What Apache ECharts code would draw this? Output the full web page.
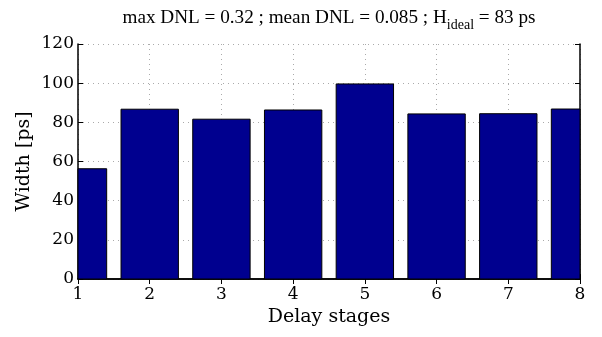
<!DOCTYPE html>
<html>
<head>
<meta charset="utf-8">
<script src="https://cdn.jsdelivr.net/npm/echarts@6/dist/echarts.min.js"></script>
<style>html,body{margin:0;padding:0;background:#fff}#c{width:602px;height:337px}</style>
</head>
<body>
<div id="c"></div>
<script>
var stages = [1, 2, 3, 4, 5, 6, 7, 8];
var widths = [56.3, 86.7, 81.6, 86.3, 99.6, 84.3, 84.4, 86.8];
var yTicks = [0, 20, 40, 60, 80, 100, 120];
var xTicks = [1, 2, 3, 4, 5, 6, 7, 8];

var FONT = 'Liberation Serif';
var AFONT = 'DejaVu Serif';
var chart = echarts.init(document.getElementById('c'), null, {renderer: 'canvas'});
var data = stages.map(function (s, i) { return [s, widths[i]]; });

var axisLine = {show: true, lineStyle: {color: '#000', width: 1.5}};
var axisTick = {show: true, inside: true, length: 5, lineStyle: {color: '#000'}};
var gridLine = {show: true, lineStyle: {color: '#aaa', type: [1, 4], width: 1}};

chart.setOption({
  animation: false,
  backgroundColor: '#fff',
  title: {
    text: '{a|max DNL = 0.32 ; mean DNL = 0.085 ; H}{s|ideal}{a| = 83 ps}',
    left: 324,
    top: 1,
    textAlign: 'center',
    textStyle: {
      fontWeight: 'normal',
      rich: {
        a: {fontFamily: FONT, fontSize: 19.2, fontWeight: 'normal', color: '#000', lineHeight: 24},
        s: {fontFamily: FONT, fontSize: 14, fontWeight: 'normal', color: '#000', lineHeight: 24, padding: [14, 0, 0, 0]}
      }
    }
  },
  grid: {left: 78, right: 22, top: 44, bottom: 58, containLabel: false},
  xAxis: [{
    type: 'value', min: 1, max: 8, interval: 1, position: 'bottom',
    name: 'Delay stages', nameLocation: 'middle', nameGap: 23,
    nameTextStyle: {fontFamily: AFONT, fontSize: 19, color: '#000'},
    axisLabel: {fontFamily: AFONT, fontSize: 17, color: '#000', margin: 7, customValues: xTicks},
    axisLine: axisLine, axisTick: axisTick, splitLine: gridLine
  }, {
    type: 'value', min: 1, max: 8, interval: 1, position: 'top',
    axisLabel: {show: false}, axisLine: axisLine, axisTick: axisTick, splitLine: {show: false}
  }],
  yAxis: [{
    type: 'value', min: 0, max: 120, interval: 20, position: 'left',
    name: 'Width [ps]', nameLocation: 'middle', nameGap: 44, nameRotate: 90,
    nameMoveOverlap: false,
    nameTextStyle: {fontFamily: AFONT, fontSize: 19, color: '#000'},
    axisLabel: {fontFamily: AFONT, fontSize: 17, color: '#000', margin: 4, customValues: yTicks},
    axisLine: axisLine, axisTick: axisTick, splitLine: gridLine
  }, {
    type: 'value', min: 0, max: 120, interval: 20, position: 'right',
    axisLabel: {show: false}, axisLine: axisLine, axisTick: axisTick, splitLine: {show: false}
  }],
  series: [{
    type: 'custom',
    data: data,
    z: 1,
    renderItem: function (params, api) {
      var x = api.value(0), y = api.value(1);
      var p0 = api.coord([x - 0.4, y]);
      var p1 = api.coord([x + 0.4, 0]);
      var cs = params.coordSys;
      var rect = echarts.graphic.clipRectByRect({
        x: p0[0], y: p0[1], width: p1[0] - p0[0], height: p1[1] - p0[1]
      }, {x: cs.x, y: cs.y, width: cs.width, height: cs.height});
      if (!rect) return;
      return {type: 'rect', shape: rect, style: {fill: '#00008F', stroke: '#000', lineWidth: 1}};
    }
  }]
});
</script>
</body>
</html>
